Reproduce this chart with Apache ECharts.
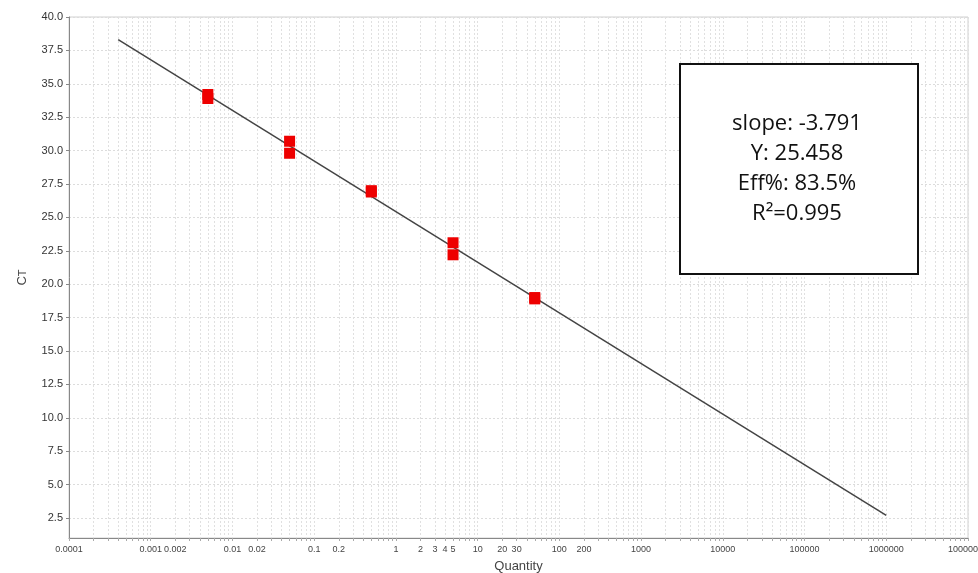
<!DOCTYPE html>
<html>
<head>
<meta charset="utf-8">
<script src="https://cdn.jsdelivr.net/npm/echarts@6/dist/echarts.min.js"></script>
<style>
html,body{margin:0;padding:0;background:#fff;}
#chart{width:978px;height:573px;}
</style>
</head>
<body>
<div id="chart"></div>
<script>
// ---- data ----
const quantity = [0.005, 0.005, 0.05, 0.05, 0.5, 0.5, 5, 5, 50, 50];
const ct = [34.2, 33.9, 30.7, 29.8, 27.0, 26.9, 23.1, 22.2, 19.0, 18.9];
const fitQuantity = [0.0004, 1000000];
const fitCt = [38.3, 2.7];
const xTickLabels = [0.0001, 0.001, 0.002, 0.01, 0.02, 0.1, 0.2, 1, 2, 3, 4, 5, 10, 20, 30, 100, 200, 1000, 10000, 100000, 1000000, 10000000];
const yTickLabels = [2.5, 5, 7.5, 10, 12.5, 15, 17.5, 20, 22.5, 25, 27.5, 30, 32.5, 35, 37.5, 40];
const statsLines = ['slope: -3.791', 'Y: 25.458', 'Eff%: 83.5%', 'R\u00B2=0.995'];

// minor grid values (1..9 x 10^d)
const xGridValues = [];
for (let d = -4; d <= 6; d++) {
  for (let k = 1; k <= 9; k++) xGridValues.push(Math.log10(k * Math.pow(10, d)));
}
xGridValues.push(7);

function fmtQ(v) {
  const n = Number(Math.pow(10, v).toPrecision(6));
  return String(n);
}

const chart = echarts.init(document.getElementById('chart'), null, {renderer: 'canvas'});
chart.setOption({
  animation: false,
  backgroundColor: '#fff',
  textStyle: {fontFamily: 'Liberation Sans, Arial, sans-serif'},
  grid: {left: 69, right: 10, top: 17, bottom: 35, show: true, borderColor: '#d0d0d0', borderWidth: 1, outerBoundsMode: 'none', containLabel: false},
  xAxis: {
    type: 'value', min: -4, max: 7, interval: 1,
    name: 'Quantity', nameLocation: 'middle', nameGap: 22,
    nameTextStyle: {fontSize: 13, color: '#444'},
    axisLine: {show: true, onZero: false, lineStyle: {color: '#888', width: 1}},
    axisTick: {show: true, length: 3, customValues: xGridValues, lineStyle: {color: '#aaa'}},
    axisLabel: {customValues: xTickLabels.map(Math.log10), formatter: fmtQ, fontSize: 9, color: '#444', margin: 7, hideOverlap: false},
    splitLine: {show: true, lineStyle: {color: '#e0e0e0', type: [2, 2], width: 1}}
  },
  yAxis: {
    type: 'value', min: 1, max: 40,
    name: '{c|C}{t|T}', nameLocation: 'middle', nameGap: 40,
    nameTextStyle: {rich: {c: {fontSize: 13, color: '#444'}, t: {fontSize: 11, color: '#444'}}},
    axisLine: {show: true, onZero: false, lineStyle: {color: '#888', width: 1}},
    axisTick: {show: true, length: 3, customValues: yTickLabels, lineStyle: {color: '#888'}},
    axisLabel: {customValues: yTickLabels, formatter: v => v.toFixed(1), fontSize: 11, color: '#333', margin: 6},
    splitLine: {show: true, lineStyle: {color: '#dcdcdc', type: [2, 2], width: 1}}
  },
  series: [
    {
      type: 'line',
      data: fitQuantity.map((q, i) => [Math.log10(q), fitCt[i]]),
      showSymbol: false, symbol: 'none',
      lineStyle: {color: '#444', width: 1.5},
      z: 2
    },
    {
      type: 'scatter',
      data: quantity.map((q, i) => [Math.log10(q), ct[i]]),
      symbol: 'rect', symbolSize: 11,
      itemStyle: {color: '#ee0000', opacity: 1},
      z: 3
    }
  ],
  graphic: [
    {
      type: 'rect', left: 679, top: 63,
      shape: {width: 238, height: 210},
      style: {fill: '#fff', stroke: '#111', lineWidth: 2},
      z: 10
    },
    {
      type: 'text', x: 797, y: 169,
      style: {
        text: statsLines.join('\n'),
        font: '22px "Open Sans", sans-serif',
        fill: '#111', align: 'center', verticalAlign: 'middle', lineHeight: 30
      },
      z: 11
    }
  ]
});
</script>
</body>
</html>
